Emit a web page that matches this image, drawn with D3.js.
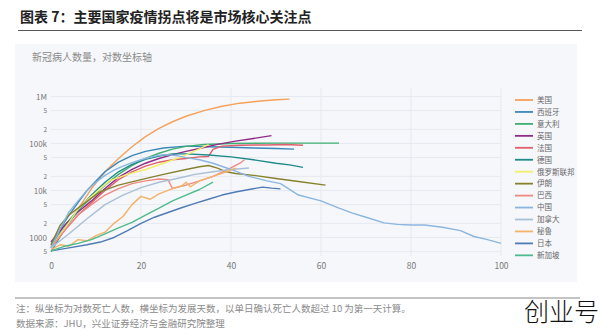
<!DOCTYPE html>
<html><head><meta charset="utf-8">
<script src="https://cdn.jsdelivr.net/npm/d3@7"></script>
<style>
html,body{margin:0;padding:0;background:#fff;}
svg{display:block;}
</style></head>
<body>
<svg id="c" width="600" height="332"></svg>
<script>
// ---- data ----
const countries = ["美国","西班牙","意大利","英国","法国","德国","俄罗斯联邦","伊朗","巴西","中国","加拿大","秘鲁","日本","新加坡"];
const usData = [[0,650],[3,1500],[6,4000],[9,11000],[12,25000],[15,48000],[18,85000],[21,140000],[24,210000],[27,290000],[30,380000],[34,500000],[38,620000],[42,720000],[46,790000],[50,850000],[53,880000]];
const spainData = [[0,600],[2,1500],[4,3000],[6,5500],[8,10000],[10,16000],[12,25000],[15,40000],[18,55000],[21,68000],[25,80000],[30,88000],[35,85000],[40,83000],[45,80000],[50,78000],[54,76000]];
const italyData = [[0,700],[3,1800],[6,3800],[9,7000],[12,13000],[15,22000],[18,34000],[21,48000],[24,62000],[27,76000],[30,87000],[34,95000],[40,100000],[50,102000],[64,102000]];
const ukData = [[0,800],[3,1800],[6,3500],[9,6000],[12,11000],[15,19000],[18,28000],[21,38000],[24,48000],[27,58000],[30,68000],[33,78000],[37,96000],[41,112000],[45,128000],[49,147000]];
const franceData = [[0,600],[3,1400],[6,3000],[9,5500],[12,10000],[15,17000],[18,25000],[21,33000],[24,40000],[27,45000],[30,48000],[33,52000],[35,53000],[36,75000],[38,88000],[42,92000],[48,93000],[52,95000],[56,92000]];
const germanyData = [[0,500],[3,1500],[6,3800],[9,8000],[12,15000],[15,25000],[18,36000],[21,46000],[24,54000],[27,60000],[30,60000],[35,57000],[40,52000],[45,45000],[50,38000],[53,35000],[56,31000]];
const russiaData = [[0,600],[3,1500],[6,4000],[9,7500],[13,16000],[17,22000],[21,28000],[25,38000],[29,52000],[32,70000],[35,95000]];
const iranData = [[0,700],[2,1800],[4,3000],[7,5000],[11,9500],[15,13000],[20,17000],[25,22000],[30,28000],[33,32000],[35,34000],[37,30000],[39,25000],[41,23000],[45,21000],[50,18000],[55,15500],[61,13000]];
const brazilData = [[0,600],[3,1400],[6,3000],[9,5000],[12,8000],[15,11000],[18,14000],[21,16000],[24,17500],[26,17000],[27,11000],[30,13000],[33,16000],[36,20000],[39,27000],[42,38000],[43,45000]];
const chinaData = [[0,600],[2,1500],[4,3500],[6,6000],[8,10000],[10,15000],[12,21000],[14,27000],[16,33000],[18,39000],[20,45000],[22,51000],[24,56000],[26,58000],[28,55000],[30,50000],[33,45000],[36,38000],[40,28000],[44,20000],[48,16000],[51,14000],[55,8000],[60,6000],[64,4200],[67,3300],[70,2700],[74,2050],[77,1900],[80,1850],[83,1850],[87,1650],[91,1400],[94,1050],[97,900],[100,750]];
const canadaData = [[0,600],[4,1200],[8,2500],[12,5000],[16,8000],[20,11500],[24,15000],[28,18000],[32,22000],[36,25000],[40,28000],[44,30000]];
const peruData = [[0,550],[2,700],[4,650],[6,900],[8,850],[10,1100],[12,1300],[14,2000],[16,2800],[18,5000],[20,7500],[22,6500],[24,8500],[27,11000],[29,12500],[30,15000],[31,12000],[33,16000],[36,20000],[39,25000],[41,30000]];
const japanData = [[0,520],[4,600],[8,700],[11,800],[14,1000],[17,1400],[20,2000],[23,2700],[26,3400],[29,4300],[32,5300],[35,6500],[38,8000],[41,9300],[44,10500],[47,11800],[49,11200],[51,10800]];
const singaporeData = [[0,520],[3,650],[6,750],[9,900],[12,1200],[15,1600],[18,2100],[21,3000],[24,4200],[27,6000],[30,8000],[33,10500],[36,15000]];
const seriesData = [usData,spainData,italyData,ukData,franceData,germanyData,russiaData,iranData,brazilData,chinaData,canadaData,peruData,japanData,singaporeData];
const yTickValues = [500,1000,2000,5000,10000,20000,50000,100000,200000,500000,1000000];
const yTickLabels = ["5","1000","2","5","10k","2","5","100k","2","5","1M"];
const xTickValues = [0,20,40,60,80,100];

// ---- styles ----
const palette = ["#f5a15b","#3b87b8","#3fae73","#8e2c86","#e0606e","#1f8a8a","#f3ee6c","#85812e","#ef8a80","#8ab6df","#a9bfd6","#f3b26a","#4f7bb5","#4dbb8c"];

const svg = d3.select("#c");
const font = "'Noto Sans CJK SC','Noto Sans',sans-serif";

// title
svg.append("text").attr("x",20).attr("y",22).attr("font-family",font).attr("font-weight","bold")
  .attr("font-size",14).attr("fill","#222").text("图表 7：主要国家疫情拐点将是市场核心关注点");
svg.append("line").attr("x1",18).attr("x2",582).attr("y1",30.5).attr("y2",30.5).attr("stroke","#555").attr("stroke-width",1.2);

// card
svg.append("rect").attr("x",15).attr("y",44).attr("width",562).attr("height",238).attr("fill","#f6f7fa");
svg.append("text").attr("x",32).attr("y",61).attr("font-family",font).attr("font-size",10).attr("fill","#8a8a8a")
  .text("新冠病人数量，对数坐标轴");

const x = d3.scaleLinear().domain([0,100]).range([51,501]);
const y = d3.scaleLog().domain([400,1500000]).range([256.2,88.2]);

// grid
const g = svg.append("g");
g.selectAll("line.h").data(yTickValues).join("line").attr("x1",51).attr("x2",501)
  .attr("y1",d=>y(d)).attr("y2",d=>y(d)).attr("stroke","#e6e9ef").attr("stroke-width",1);
g.selectAll("line.v").data(xTickValues.filter(d=>d>0)).join("line").attr("y1",88).attr("y2",256)
  .attr("x1",d=>x(d)).attr("x2",d=>x(d)).attr("stroke","#e6e9ef").attr("stroke-width",1);

// axes
const yAxis = d3.axisLeft(y).tickValues(yTickValues).tickFormat((d,i)=>yTickLabels[i]).tickSize(0).tickPadding(4);
const ya = svg.append("g").attr("transform","translate(51,0)").call(yAxis);
ya.select(".domain").remove();
ya.selectAll("text").attr("font-family",font).attr("fill","#777")
  .attr("font-size",(d,i)=>yTickLabels[i].length>1?8:6.5);
const xAxis = d3.axisBottom(x).tickValues(xTickValues).tickSize(0).tickPadding(7);
const xa = svg.append("g").attr("transform","translate(0,256)").call(xAxis);
xa.select(".domain").remove();
xa.selectAll("text").attr("font-family",font).attr("fill","#777").attr("font-size",8.5);

// lines
const line = d3.line().x(d=>x(d[0])).y(d=>y(d[1]));
svg.append("g").selectAll("path").data(seriesData).join("path")
  .attr("d",line).attr("fill","none").attr("stroke",(d,i)=>palette[i]).attr("stroke-width",1.4)
  .attr("stroke-linejoin","round");

// legend
const lg = svg.append("g").attr("transform","translate(515,100)");
const items = lg.selectAll("g").data(countries).join("g").attr("transform",(d,i)=>`translate(0,${i*11.95})`);
items.append("line").attr("x1",0).attr("x2",18).attr("stroke",(d,i)=>palette[i]).attr("stroke-width",1.8);
items.append("text").attr("x",22).attr("y",2.8).attr("font-family",font).attr("font-size",7.5).attr("fill","#666").text(d=>d);

// footer
svg.append("line").attr("x1",15).attr("x2",580).attr("y1",298).attr("y2",298).attr("stroke","#888").attr("stroke-width",1);
svg.append("text").attr("x",16).attr("y",312).attr("font-family",font).attr("font-size",9.5).attr("fill","#8a8a8a")
  .text("注：纵坐标为对数死亡人数，横坐标为发展天数，以单日确认死亡人数超过 10 为第一天计算。");
svg.append("text").attr("x",16).attr("y",327).attr("font-family",font).attr("font-size",9.5).attr("fill","#8a8a8a")
  .text("数据来源：JHU，兴业证券经济与金融研究院整理");
svg.append("text").attr("x",524).attr("y",321).attr("font-family",font).attr("font-size",25).attr("font-weight",300).attr("fill","#111")
  .text("创业号");
</script>
</body></html>
